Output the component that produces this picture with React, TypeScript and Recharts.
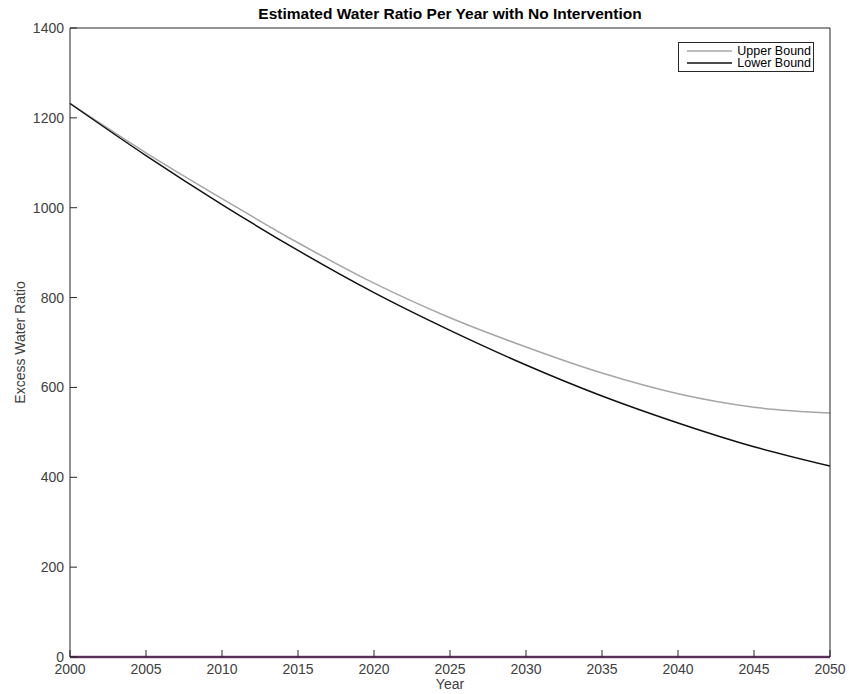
import { LineChart, Line, XAxis, YAxis, Legend, Label } from 'recharts'

const years = [2000, 2005, 2010, 2015, 2020, 2025, 2030, 2035, 2040, 2045, 2050]
const upperBound = [1232, 1122, 1020, 922, 832, 755, 690, 632, 586, 556, 543]
const lowerBound = [1232, 1116, 1007, 905, 811, 727, 650, 581, 521, 468, 425]
const baseline = [0, 0, 0, 0, 0, 0, 0, 0, 0, 0, 0]

const xTicks = [2000, 2005, 2010, 2015, 2020, 2025, 2030, 2035, 2040, 2045, 2050]
const yTicks = [0, 200, 400, 600, 800, 1000, 1200, 1400]

const FONT = '"Liberation Sans", Arial, Helvetica, sans-serif'
const AXIS = '#262626'
const TEXT = '#404040'
const TICK_LEN = 7

const data = years.map((year, i) => ({
  year,
  upper: upperBound[i],
  lower: lowerBound[i],
  base: baseline[i],
}))

// MATLAB-style ticks: marks point into the plot box
function BottomTick({ x, y, payload }: any) {
  return (
    <g>
      <line x1={x} x2={x} y1={y} y2={y - TICK_LEN} stroke={AXIS} />
      <text x={x} y={y + 17} textAnchor="middle" fill={TEXT} fontSize={14} fontFamily={FONT}>
        {payload.value}
      </text>
    </g>
  )
}

function LeftTick({ x, y, payload }: any) {
  return (
    <g>
      <line x1={x} x2={x + TICK_LEN} y1={y} y2={y} stroke={AXIS} />
      <text x={x - 6} y={y + 5} textAnchor="end" fill={TEXT} fontSize={14} fontFamily={FONT}>
        {payload.value}
      </text>
    </g>
  )
}

function TopTick({ x, y }: any) {
  return <line x1={x} x2={x} y1={y} y2={y + TICK_LEN} stroke={AXIS} />
}

function RightTick({ x, y }: any) {
  return <line x1={x} x2={x - TICK_LEN} y1={y} y2={y} stroke={AXIS} />
}

const LEGEND_ORDER = ['upper', 'lower']

function LegendBox({ payload }: any) {
  const items = (payload ?? [])
    .filter((p: any) => LEGEND_ORDER.includes(p.dataKey))
    .sort((a: any, b: any) => LEGEND_ORDER.indexOf(a.dataKey) - LEGEND_ORDER.indexOf(b.dataKey))
  return (
    <div
      style={{
        width: 136,
        height: 30,
        boxSizing: 'border-box',
        border: `1px solid ${AXIS}`,
        background: '#fff',
        paddingTop: 2,
        fontFamily: FONT,
        fontSize: 12.5,
        color: '#000',
      }}
    >
      {items.map((p: any) => (
        <div key={p.dataKey} style={{ display: 'flex', alignItems: 'center', height: 12, lineHeight: '12px' }}>
          <svg width={54} height={12} style={{ flex: 'none' }}>
            <line x1={8} x2={53} y1={6} y2={6} stroke={p.color} strokeWidth={1.5} />
          </svg>
          <span style={{ flex: 1, textAlign: 'right', paddingRight: 2, whiteSpace: 'nowrap' }}>{p.value}</span>
        </div>
      ))}
    </div>
  )
}

export default function App() {
  return (
    <div style={{ position: 'absolute', left: 0, top: 0, width: 849, height: 694, background: '#fff' }}>
      <div
        style={{
          position: 'absolute',
          left: 70,
          width: 760,
          top: 5,
          textAlign: 'center',
          fontFamily: FONT,
          fontWeight: 'bold',
          fontSize: 15.5,
          color: '#000',
          lineHeight: '18px',
        }}
      >
        Estimated Water Ratio Per Year with No Intervention
      </div>
      <LineChart
        width={849}
        height={694}
        data={data}
        margin={{ top: 27, right: 18, bottom: 0, left: 10 }}
        style={{ fontFamily: FONT }}
      >
        <XAxis
          xAxisId="bottom"
          dataKey="year"
          type="number"
          domain={[2000, 2050]}
          ticks={xTicks}
          height={37}
          tickSize={0}
          tickMargin={0}
          tickLine={false}
          stroke={AXIS}
          tick={<BottomTick />}
          interval={0}
        >
          <Label value="Year" position="insideBottom" offset={5} style={{ fill: TEXT, fontSize: 14 }} />
        </XAxis>
        <XAxis
          xAxisId="top"
          orientation="top"
          type="number"
          domain={[2000, 2050]}
          ticks={xTicks}
          height={1}
          tickSize={0}
          tickMargin={0}
          tickLine={false}
          stroke={AXIS}
          tick={<TopTick />}
          interval={0}
        />
        <YAxis
          yAxisId="left"
          type="number"
          domain={[0, 1400]}
          ticks={yTicks}
          width={60}
          tickSize={0}
          tickMargin={0}
          tickLine={false}
          stroke={AXIS}
          tick={<LeftTick />}
          interval={0}
        >
          <Label
            value="Excess Water Ratio"
            angle={-90}
            position="insideLeft"
            offset={10}
            style={{ fill: TEXT, fontSize: 14, textAnchor: 'middle' }}
          />
        </YAxis>
        <YAxis
          yAxisId="right"
          orientation="right"
          type="number"
          domain={[0, 1400]}
          ticks={yTicks}
          width={1}
          tickSize={0}
          tickMargin={0}
          tickLine={false}
          stroke={AXIS}
          tick={<RightTick />}
          interval={0}
        />
        <Legend
          layout="vertical"
          align="center"
          verticalAlign="middle"
          content={<LegendBox />}
          wrapperStyle={{ top: 42, left: 678, width: 136, height: 30 }}
        />
        <Line
          xAxisId="bottom"
          yAxisId="left"
          dataKey="base"
          name="Baseline"
          type="linear"
          stroke="#8b3d88"
          strokeWidth={2.5}
          dot={false}
          legendType="none"
          isAnimationActive={false}
        />
        <Line
          xAxisId="bottom"
          yAxisId="left"
          dataKey="upper"
          name="Upper Bound"
          type="monotone"
          stroke="#a6a6a6"
          strokeWidth={1.5}
          dot={false}
          isAnimationActive={false}
        />
        <Line
          xAxisId="bottom"
          yAxisId="left"
          dataKey="lower"
          name="Lower Bound"
          type="monotone"
          stroke="#111111"
          strokeWidth={1.5}
          dot={false}
          isAnimationActive={false}
        />
      </LineChart>
    </div>
  )
}
